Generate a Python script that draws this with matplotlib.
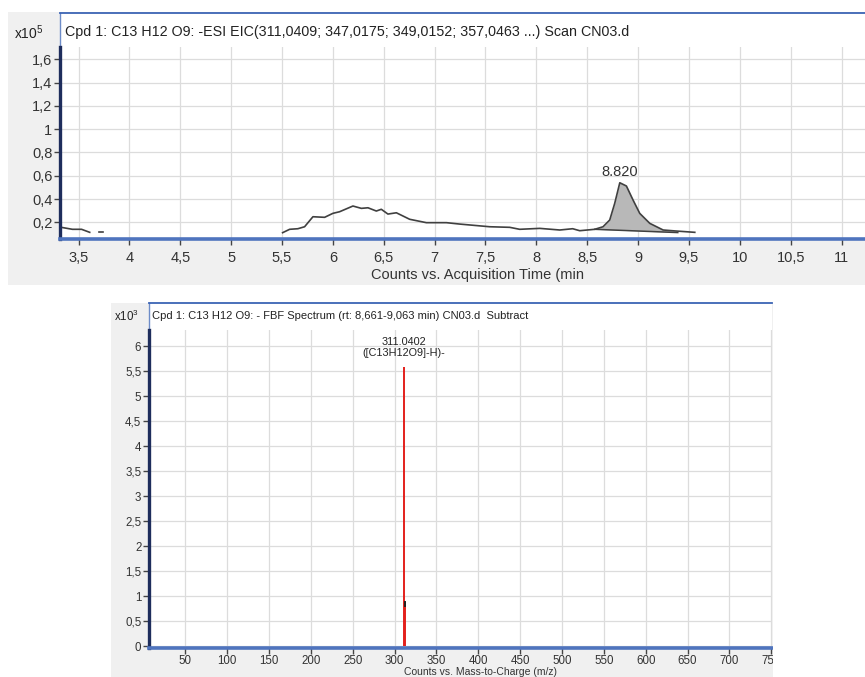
import matplotlib.pyplot as plt
from matplotlib.patches import Rectangle
import numpy as np

plt.rcParams['font.family'] = ['Liberation Sans', 'DejaVu Sans']
plt.rcParams['mathtext.default'] = 'regular'

# --- chromatogram (EIC), counts x10^5 ---
time_start = [3.33, 3.44, 3.53, 3.61]
counts_start = [0.157, 0.14, 0.14, 0.114]
time_dot = [3.70, 3.74]
counts_dot = [0.114, 0.114]
time_main = [5.506, 5.575, 5.656, 5.722, 5.804, 5.919, 6.0, 6.066, 6.197, 6.28,
             6.345, 6.427, 6.476, 6.541, 6.624, 6.755, 6.919, 7.116, 7.246, 7.541,
             7.738, 7.836, 8.033, 8.23, 8.357, 8.426, 8.574, 8.655, 8.721, 8.77,
             8.82, 8.885, 8.95, 9.016, 9.115, 9.246, 9.377, 9.557]
counts_main = [0.111, 0.14, 0.145, 0.162, 0.248, 0.243, 0.277, 0.291, 0.34, 0.32,
               0.325, 0.297, 0.312, 0.271, 0.282, 0.226, 0.197, 0.197, 0.185, 0.162,
               0.157, 0.14, 0.148, 0.134, 0.145, 0.128, 0.14, 0.162, 0.22, 0.363,
               0.54, 0.512, 0.392, 0.277, 0.191, 0.134, 0.125, 0.114]
base_t = [8.574, 9.39]
base_v = [0.14, 0.112]
peak_rt = 8.820
peak_h = 0.54

eic_xticks = [3.5, 4, 4.5, 5, 5.5, 6, 6.5, 7, 7.5, 8, 8.5, 9, 9.5, 10, 10.5, 11]
eic_yticks = [0.2, 0.4, 0.6, 0.8, 1.0, 1.2, 1.4, 1.6]

# --- spectrum, counts x10^3 ---
mz = [311.0402, 312.0436]
intensity = [5.58, 0.88]
ms_xticks = [50, 100, 150, 200, 250, 300, 350, 400, 450, 500, 550, 600, 650, 700, 750]
ms_yticks = [0, 0.5, 1, 1.5, 2, 2.5, 3, 3.5, 4, 4.5, 5, 5.5, 6]

title_eic = 'Cpd 1: C13 H12 O9: -ESI EIC(311,0409; 347,0175; 349,0152; 357,0463 ...) Scan CN03.d'
title_ms = 'Cpd 1: C13 H12 O9: - FBF Spectrum (rt: 8,661-9,063 min) CN03.d  Subtract'

W, H = 865, 677
fig = plt.figure(figsize=(W / 100, H / 100), dpi=100)
fig.patch.set_facecolor('white')


def box(x0, y0, x1, y1):
    return [x0 / W, 1 - y1 / H, (x1 - x0) / W, (y1 - y0) / H]


def comma(v):
    return f'{v:g}'.replace('.', ',')


def panel_bg(x0, y0, x1, y1, color, z):
    fig.add_artist(Rectangle((x0 / W, 1 - y1 / H), (x1 - x0) / W, (y1 - y0) / H,
                             transform=fig.transFigure, facecolor=color,
                             edgecolor='none', zorder=z))


def frame(x0, y0, x1, y1):
    fr = fig.add_axes(box(x0, y0, x1, y1))
    fr.set_facecolor('white')
    fr.set_xticks([])
    fr.set_yticks([])
    for s in ['right', 'bottom']:
        fr.spines[s].set_visible(False)
    fr.spines['top'].set_color('#3c64b4')
    fr.spines['top'].set_linewidth(1.3)
    fr.spines['left'].set_color('#6d8cc8')
    fr.spines['left'].set_linewidth(1.0)
    return fr


def style(ax, fs, xpad):
    ax.set_facecolor('none')
    ax.spines['top'].set_visible(False)
    ax.spines['right'].set_visible(False)
    ax.spines['left'].set_color('#1e2d5c')
    ax.spines['left'].set_linewidth(2.4)
    ax.spines['bottom'].set_color('#4f74be')
    ax.spines['bottom'].set_linewidth(2.6)
    ax.grid(True, color='#dcdcdc', lw=0.9)
    ax.set_axisbelow(True)
    ax.tick_params(direction='out', length=4, width=1, color='#444444',
                   labelsize=fs, labelcolor='#333333', pad=1.5)
    ax.tick_params(axis='x', pad=xpad)


# ---------------- top panel ----------------
panel_bg(8, 12, 865, 285, '#f0f0f0', -10)
frame(60, 13.3, 865, 238.5)
ax = fig.add_axes(box(60, 46.7, 865, 238.5))
style(ax, 10.5, 5)
ax.set_xlim(3.318, 11.23)
ax.set_ylim(0.061, 1.709)
ax.set_xticks(eic_xticks)
ax.set_xticklabels([comma(v) for v in eic_xticks])
ax.set_yticks(eic_yticks)
ax.set_yticklabels([comma(v) for v in eic_yticks])

t = np.array(time_main)
c = np.array(counts_main)
base = np.interp(t, base_t, base_v)
inpk = (t >= base_t[0]) & (t <= base_t[1])
ax.fill_between(t, base, c, where=inpk & (c >= base), color='#b8b8b8', lw=0)
ax.plot(base_t, base_v, color='#404040', lw=1.1)
ax.plot(time_start, counts_start, color='#404040', lw=1.2)
ax.plot(time_dot, counts_dot, color='#404040', lw=1.2)
ax.plot(time_main, counts_main, color='#404040', lw=1.2)
ax.annotate(f'{peak_rt:.3f}', xy=(peak_rt, peak_h), xytext=(0, 3),
            textcoords='offset points', ha='center', va='bottom',
            fontsize=10.5, color='#333333')

fig.text(65 / W, 1 - 32 / H, title_eic, fontsize=10.3, color='#222222', va='center')
fig.text(14 / W, 1 - 33 / H, r'x10$^{5}$', fontsize=10, color='#222222', va='center')
fig.text(478 / W, 1 - 275 / H, 'Counts vs. Acquisition Time (min', fontsize=10.5,
         color='#333333', ha='center', va='center')

# ---------------- bottom panel ----------------
panel_bg(111, 303, 773, 677, '#f0f0f0', -10)
frame(149, 303, 772.5, 647.5)
ax2 = fig.add_axes(box(149, 330, 772.5, 647.5))
style(ax2, 8.3, 1.2)
ax2.set_xlim(6.5, 751.5)
ax2.set_ylim(-0.03, 6.33)
ax2.set_xticks(ms_xticks)
ax2.set_xticklabels([str(v) for v in ms_xticks])
ax2.set_yticks(ms_yticks)
ax2.set_yticklabels([comma(v) for v in ms_yticks])
ax2.vlines(mz, 0, intensity, colors='#e3201c', lw=1.4)
ax2.plot([mz[1], mz[1]], [intensity[1] - 0.08, intensity[1]], color='#202020', lw=1.4)
ax2.annotate('311.0402\n([C13H12O9]-H)-', xy=(mz[0], intensity[0]), xytext=(0, 7),
             textcoords='offset points', ha='center', va='bottom', fontsize=7.8,
             color='#222222', linespacing=1.1)

fig.text(152 / W, 1 - 316 / H, title_ms, fontsize=8, color='#222222', va='center')
fig.text(114 / W, 1 - 316 / H, r'x10$^{3}$', fontsize=8.3, color='#222222', va='center')
fig.text(481 / W, 1 - 677 / H, 'Counts vs. Mass-to-Charge (m/z)', fontsize=7.5,
         color='#333333', ha='center', va='bottom')

# screenshot crop on the right of the lower panel
panel_bg(773, 292, 866, 678, 'white', 10)

fig.savefig('out.png', dpi=100)
